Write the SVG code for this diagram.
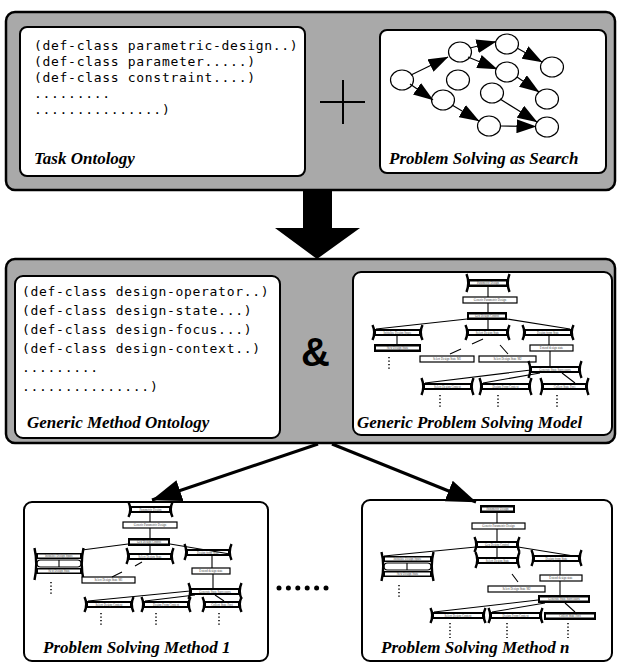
<svg xmlns="http://www.w3.org/2000/svg" width="619" height="663" viewBox="0 0 619 663">
<style>
.pnl{fill:#a9a9a9;stroke:#000;stroke-width:2.5}
.box{fill:#fff;stroke:#000;stroke-width:2}
.mono{font-family:"DejaVu Sans Mono","Liberation Mono",monospace;font-size:13px;letter-spacing:0.7px;fill:#000}
.lbl{font-family:"Liberation Serif",serif;font-weight:bold;font-style:italic;font-size:17px;fill:#000}
.bn{fill:#000}
.in{fill:#fff}
.wn{fill:#fff;stroke:#000;stroke-width:1.2}
.wg{fill:none;stroke:#000;stroke-width:2.4}
.tt{font-family:"Liberation Serif",serif;font-size:3px;fill:#444;text-anchor:middle}
.ln{stroke:#000;stroke-width:1.1;fill:none}
.dt{stroke:#000;stroke-width:1.5;stroke-dasharray:1.2 2.3;fill:none}
.cir{fill:#fff;stroke:#000;stroke-width:1.2}
.sa{stroke:#000;stroke-width:1.2;fill:none;marker-end:url(#ah)}
.ba{stroke:#000;stroke-width:3;fill:none;marker-end:url(#bh)}
</style>
<defs>
<marker id="ah" markerUnits="userSpaceOnUse" markerWidth="20" markerHeight="14" viewBox="0 0 20 14" refX="19.5" refY="7" orient="auto"><path d="M0,0 L20,7 L0,14 z" fill="#000"/></marker>
<marker id="bh" markerUnits="userSpaceOnUse" markerWidth="30" markerHeight="22" viewBox="0 0 30 22" refX="29.5" refY="11" orient="auto"><path d="M0,0 L30,11 L0,22 z" fill="#000"/></marker>
</defs>

<!-- Top panel -->
<g id="top-panel">
<rect class="pnl" x="6" y="12" width="609" height="178" rx="9"/>
</g>
<g id="task-ontology">
<rect class="box" x="20" y="27" width="285" height="149" rx="7"/>
<text class="mono" x="34" y="50">(def-class parametric-design..)</text>
<text class="mono" x="34" y="66">(def-class parameter.....)</text>
<text class="mono" x="34" y="82">(def-class constraint....)</text>
<text class="mono" x="34" y="98">.........</text>
<text class="mono" x="34" y="114">...............)</text>
<text class="lbl" x="34" y="164">Task Ontology</text>
</g>
<g id="plus">
<path d="M320,102 H365 M343,80 V124" stroke="#000" stroke-width="2" fill="none"/>
</g>
<g id="search">
<rect class="box" x="380" y="30" width="226" height="143" rx="7"/>
<ellipse class="cir" cx="402" cy="80" rx="11.5" ry="10"/>
<ellipse class="cir" cx="460" cy="52" rx="11.5" ry="10"/>
<ellipse class="cir" cx="507" cy="44" rx="11.5" ry="10"/>
<ellipse class="cir" cx="458" cy="80" rx="11.5" ry="10"/>
<ellipse class="cir" cx="507" cy="72" rx="11.5" ry="10"/>
<ellipse class="cir" cx="552" cy="67" rx="11.5" ry="10"/>
<ellipse class="cir" cx="443" cy="100" rx="11.5" ry="10"/>
<ellipse class="cir" cx="492" cy="93" rx="11.5" ry="10"/>
<ellipse class="cir" cx="547" cy="99" rx="11.5" ry="10"/>
<ellipse class="cir" cx="489" cy="126" rx="11.5" ry="10"/>
<ellipse class="cir" cx="547" cy="127" rx="11.5" ry="10"/>
<text class="lbl" x="389" y="164">Problem Solving as Search</text>
</g>

<!-- Middle panel -->
<g id="middle-panel">
<rect class="pnl" x="6" y="259" width="609" height="184" rx="9"/>
</g>
<g id="method-ontology">
<rect class="box" x="15" y="276" width="265" height="162" rx="8"/>
<text class="mono" x="22" y="296">(def-class design-operator..)</text>
<text class="mono" x="22" y="315">(def-class design-state...)</text>
<text class="mono" x="22" y="334">(def-class design-focus...)</text>
<text class="mono" x="22" y="353">(def-class design-context..)</text>
<text class="mono" x="22" y="372">.........</text>
<text class="mono" x="22" y="391">...............)</text>
<text class="lbl" x="27" y="428">Generic Method Ontology</text>
</g>
<g id="amp">
<text x="301" y="366" font-family="Liberation Sans, Arial, sans-serif" font-weight="bold" font-size="40">&amp;</text>
</g>

<!-- Block arrow -->
<g id="block-arrow">
<polygon points="303,190 332,190 332,228 360,228 317,259 275,228 303,228" fill="#000"/>
</g>

<!-- Generic problem solving model -->
<g id="generic-model">
<rect class="box" x="353" y="272" width="259" height="163" rx="8"/>
<text class="lbl" x="357" y="428">Generic Problem Solving Model</text>
</g>
<g id="g-parametric-design"><rect class="bn" x="468" y="279" width="40" height="8"/><rect class="in" x="470" y="281.5" width="36" height="3"/><path class="wg" d="M466.5,274 Q470,283 466.5,292 M509.5,274 Q506,283 509.5,292"/><text class="tt" x="488" y="284">Parametric Design</text></g>
<g id="g-generic-parametric-design"><rect class="wn" x="463" y="297" width="54" height="6"/><text class="tt" x="490" y="301">Generic Parametric Design</text></g>
<g id="g-gen-design-control"><rect class="bn" x="467" y="312" width="40" height="8"/><rect class="in" x="469" y="314.5" width="36" height="3"/><text class="tt" x="487" y="317">Gen Design Control</text></g>
<g id="g-initialize-design-space"><rect class="bn" x="374" y="329" width="47" height="7"/><rect class="in" x="376" y="331" width="43" height="3"/><path class="wg" d="M372.5,325 Q376,332.5 372.5,340 M422.5,325 Q419,332.5 422.5,340"/><text class="tt" x="397.5" y="333.5">Initialize Design Space</text></g>
<g id="g-select-design-state"><rect class="bn" x="467" y="329" width="41" height="7"/><rect class="in" x="469" y="331" width="37" height="3"/><path class="wg" d="M465.5,325 Q469,332.5 465.5,340 M509.5,325 Q506,332.5 509.5,340"/><text class="tt" x="487.5" y="333.5">Select Design State</text></g>
<g id="g-design-from-state"><rect class="bn" x="524" y="329" width="48" height="7"/><rect class="in" x="526" y="331" width="44" height="3"/><path class="wg" d="M522.5,325 Q526,332.5 522.5,340 M573.5,325 Q570,332.5 573.5,340"/><text class="tt" x="548" y="333.5">Design from State</text></g>
<g id="g-new-design-state"><rect class="bn" x="374" y="344" width="47" height="8"/><rect class="in" x="376" y="346.5" width="43" height="3"/><text class="tt" x="397.5" y="349">New Design State</text></g>
<g id="g-select-m1"><rect class="wn" x="420" y="356" width="54" height="6"/><text class="tt" x="447" y="360">Select Design State M1</text></g>
<g id="g-select-m2"><rect class="wn" x="479" y="356" width="57" height="6"/><text class="tt" x="507.5" y="360">Select Design State M2</text></g>
<g id="g-extend-design-state"><rect class="wn" x="530" y="345" width="43" height="6"/><text class="tt" x="551.5" y="349">Extend design state</text></g>
<g id="g-generate-state-successors"><rect class="bn" x="530" y="366" width="50" height="7"/><rect class="in" x="532" y="368" width="46" height="3"/><path class="wg" d="M528.5,361 Q532,369.5 528.5,378 M581.5,361 Q578,369.5 581.5,378"/><text class="tt" x="555" y="370.5">Generate State Successors</text></g>
<g id="g-select-design-context"><rect class="bn" x="423" y="383" width="49" height="7"/><rect class="in" x="425" y="385" width="45" height="3"/><path class="wg" d="M421.5,378 Q425,386.5 421.5,395 M473.5,378 Q470,386.5 473.5,395"/><text class="tt" x="447.5" y="387.5">Select Design Context</text></g>
<g id="g-design-from-context"><rect class="bn" x="481" y="383" width="49" height="7"/><rect class="in" x="483" y="385" width="45" height="3"/><path class="wg" d="M479.5,378 Q483,386.5 479.5,395 M531.5,378 Q528,386.5 531.5,395"/><text class="tt" x="505.5" y="387.5">Design From Context</text></g>
<g id="g-collect-state-foci"><rect class="bn" x="542" y="383" width="45" height="7"/><rect class="in" x="544" y="385" width="41" height="3"/><path class="wg" d="M540.5,378 Q544,386.5 540.5,395 M588.5,378 Q585,386.5 588.5,395"/><text class="tt" x="564.5" y="387.5">Collect State Foci</text></g>

<!-- Bottom left PSM -->
<g id="psm-1">
<rect class="box" x="24" y="502" width="244" height="159" rx="8"/>
<text class="lbl" x="43" y="653" font-size="17.5">Problem Solving Method 1</text>
</g>
<g id="l-parametric-design"><rect class="bn" x="130" y="506" width="41" height="7"/><rect class="in" x="132" y="508" width="37" height="3"/><path class="wg" d="M128.5,502 Q132,509.5 128.5,517 M172.5,502 Q169,509.5 172.5,517"/><text class="tt" x="150.5" y="510.5">Parametric Design</text></g>
<g id="l-generic-parametric-design"><rect class="wn" x="123" y="522" width="54" height="6"/><text class="tt" x="150" y="526">Generic Parametric Design</text></g>
<g id="l-gen-design-control"><rect class="bn" x="128" y="538" width="42" height="8"/><rect class="in" x="130" y="540.5" width="38" height="3"/><text class="tt" x="149" y="543">Gen Design Control</text></g>
<g id="l-initialize-design-space"><rect class="bn" x="36" y="553" width="46" height="6"/><rect class="in" x="38" y="554.5" width="42" height="3"/><rect class="wn" x="37" y="560" width="44" height="7" rx="3.5"/><line class="ln" x1="59" y1="560" x2="59" y2="567"/><rect class="bn" x="36" y="568" width="46" height="6"/><rect class="in" x="38" y="569.5" width="42" height="3"/><path class="wg" d="M34.5,548 Q38,564 34.5,580 M83.5,548 Q80,564 83.5,580"/><text class="tt" x="59" y="557">Initialize Design Space</text><text class="tt" x="59" y="572">New Design State</text></g>
<g id="l-select-design-state"><rect class="bn" x="128" y="553" width="44" height="7"/><rect class="in" x="130" y="555" width="40" height="3"/><path class="wg" d="M126.5,548 Q130,556 126.5,564 M173.5,548 Q170,556 173.5,564"/><text class="tt" x="150" y="557.5">Select Design State</text></g>
<g id="l-design-from-state"><rect class="bn" x="186" y="549" width="44" height="7"/><rect class="in" x="188" y="551" width="40" height="3"/><path class="wg" d="M184.5,544 Q188,552 184.5,560 M231.5,544 Q228,552 231.5,560"/><text class="tt" x="208" y="553.5">Design from State</text></g>
<g id="l-select-m1"><rect class="wn" x="82" y="577" width="53" height="6"/><text class="tt" x="108.5" y="581">Select Design State M1</text></g>
<g id="l-extend-design-state"><rect class="wn" x="192" y="568" width="38" height="6"/><text class="tt" x="211" y="572">Extend design state</text></g>
<g id="l-generate-state-successors"><rect class="bn" x="190" y="588" width="50" height="7"/><rect class="in" x="192" y="590" width="46" height="3"/><path class="wg" d="M188.5,583 Q192,591 188.5,599 M241.5,583 Q238,591 241.5,599"/><text class="tt" x="215" y="592.5">Generate State Successors</text></g>
<g id="l-select-design-context"><rect class="bn" x="86" y="601" width="46" height="7"/><rect class="in" x="88" y="603" width="42" height="3"/><path class="wg" d="M84.5,597 Q88,604.5 84.5,612 M133.5,597 Q130,604.5 133.5,612"/><text class="tt" x="109" y="605.5">Select Design Context</text></g>
<g id="l-design-from-context"><rect class="bn" x="143" y="601" width="46" height="7"/><rect class="in" x="145" y="603" width="42" height="3"/><path class="wg" d="M141.5,597 Q145,604.5 141.5,612 M190.5,597 Q187,604.5 190.5,612"/><text class="tt" x="166" y="605.5">Design From Context</text></g>
<g id="l-collect-state-foci"><rect class="bn" x="204" y="601" width="36" height="7"/><rect class="in" x="206" y="603" width="32" height="3"/><path class="wg" d="M202.5,597 Q206,604.5 202.5,612 M241.5,597 Q238,604.5 241.5,612"/><text class="tt" x="222" y="605.5">Collect State Foci</text></g>

<!-- Bottom right PSM -->
<g id="psm-n">
<rect class="box" x="362" y="500" width="250" height="161" rx="8"/>
<text class="lbl" x="381" y="653" font-size="17.5">Problem Solving Method n</text>
</g>
<g id="r-parametric-design"><rect class="bn" x="480" y="505" width="35" height="8"/><rect class="in" x="482" y="507.5" width="31" height="3"/><text class="tt" x="497.5" y="510">Parametric Design</text></g>
<g id="r-generic-parametric-design"><rect class="wn" x="472" y="523" width="53" height="6"/><text class="tt" x="498.5" y="527">Generic Parametric Design</text></g>
<g id="r-gen-design-control"><rect class="bn" x="476" y="541" width="42" height="7"/><rect class="in" x="478" y="543" width="38" height="3"/><path class="wg" d="M474.5,537 Q478,544.5 474.5,552 M519.5,537 Q516,544.5 519.5,552"/><text class="tt" x="497" y="545.5">Gen Design Control</text></g>
<g id="r-initialize-design-space"><rect class="bn" x="383" y="556" width="49" height="6"/><rect class="in" x="385" y="557.5" width="45" height="3"/><rect class="wn" x="384" y="563" width="47" height="7" rx="3.5"/><line class="ln" x1="407" y1="563" x2="407" y2="570"/><rect class="bn" x="383" y="571" width="49" height="6"/><rect class="in" x="385" y="572.5" width="45" height="3"/><path class="wg" d="M381.5,552 Q385,566 381.5,581 M433.5,552 Q430,566 433.5,581"/><text class="tt" x="407.5" y="560">Initialize Design Space</text><text class="tt" x="407.5" y="575">New Design State</text></g>
<g id="r-select-design-state"><rect class="bn" x="477" y="557" width="41" height="7"/><rect class="in" x="479" y="559" width="37" height="3"/><path class="wg" d="M475.5,552 Q479,560 475.5,568 M519.5,552 Q516,560 519.5,568"/><text class="tt" x="497.5" y="561.5">Select Design State</text></g>
<g id="r-design-from-state"><rect class="bn" x="533" y="555" width="47" height="7"/><rect class="in" x="535" y="557" width="43" height="3"/><path class="wg" d="M531.5,550 Q535,558 531.5,566 M581.5,550 Q578,558 581.5,566"/><text class="tt" x="556.5" y="559.5">Design from State</text></g>
<g id="r-extend-design-state"><rect class="wn" x="540" y="575" width="42" height="6"/><text class="tt" x="561" y="579">Extend design state</text></g>
<g id="r-select-m2"><rect class="wn" x="488" y="586" width="57" height="6"/><text class="tt" x="516.5" y="590">Select Design State M2</text></g>
<g id="r-generate-state-successors"><rect class="bn" x="538" y="595" width="52" height="8"/><rect class="in" x="540" y="597.5" width="48" height="3"/><text class="tt" x="564" y="600">Generate State Successors</text></g>
<g id="r-select-design-context"><rect class="bn" x="432" y="612" width="52" height="7"/><rect class="in" x="434" y="614" width="48" height="3"/><path class="wg" d="M430.5,608 Q434,615.5 430.5,623 M485.5,608 Q482,615.5 485.5,623"/><text class="tt" x="458" y="616.5">Select Design Context</text></g>
<g id="r-design-from-context"><rect class="bn" x="490" y="612" width="51" height="7"/><rect class="in" x="492" y="614" width="47" height="3"/><path class="wg" d="M488.5,608 Q492,615.5 488.5,623 M542.5,608 Q539,615.5 542.5,623"/><text class="tt" x="515.5" y="616.5">Design From Context</text></g>
<g id="r-collect-state-foci"><rect class="bn" x="544" y="612" width="52" height="8"/><rect class="in" x="546" y="614.5" width="48" height="3"/><text class="tt" x="570" y="617">Collect State Foci</text></g>

<!-- continuation dots -->
<g id="ellipsis">
<path class="dt" d="M389,357 V371 M440,395 V408 M498,395 V408 M557,395 V408"/>
<path class="dt" d="M51,582 V595 M101,613 V627 M156,613 V627 M219,613 V627"/>
<path class="dt" d="M399,585 V599 M450,623 V638 M507,623 V638 M568,623 V638"/>
<g fill="#000"><circle cx="279" cy="588" r="2.5"/><circle cx="288.4" cy="588" r="2.5"/><circle cx="297.8" cy="588" r="2.5"/><circle cx="307.2" cy="588" r="2.5"/><circle cx="316.6" cy="588" r="2.5"/><circle cx="326" cy="588" r="2.5"/></g>
</g>

<!-- connectors -->
<g id="connectors">
<path class="sa" d="M411,75 L448,57"/>
<path class="sa" d="M410,84 L433,100"/>
<path class="sa" d="M470,48 L496,41.5"/>
<path class="sa" d="M468,57 L497,69"/>
<path class="sa" d="M517,48 L542,62"/>
<path class="sa" d="M517,77 L539,92"/>
<path class="sa" d="M452,105 L479,121"/>
<path class="sa" d="M500,99 L537,122"/>
<path class="sa" d="M500,126 L536,126.5"/>
<path class="ln" d="M488,287 V297 M488,303 V312 M488,320 V329 M467,319 L376,329 M507,319 L570,329 M397,336 V344 M483,339 L472,344 M461,349 L450,354 M500,345 L508,354 M549,336 V345 M550,351 V366 M531,370 L425,383 M540,373 L483,383 M562,373 L575,383"/>
<path class="ln" d="M150,513 V522 M150,528 V538 M150,546 V553 M128,544 L82,550 M170,544 L230,554 M142,562 L135,566 M122,572 L112,577 M212,556 V568 M213,574 V588 M190,591 L88,601 M195,595 L145,601 M215,595 L224,601"/>
<path class="ln" d="M497,513 V523 M497,529 V541 M497,548 V557 M476,547 L384,556 M518,547 L580,557 M512,574 L518,582 M560,562 V575 M560,581 V595 M538,600 L434,612 M545,603 L492,612 M565,603 L575,612"/>
<path class="ba" d="M318,444 L152,500"/>
<path class="ba" d="M332,444 L476,502"/>
</g>
</svg>
